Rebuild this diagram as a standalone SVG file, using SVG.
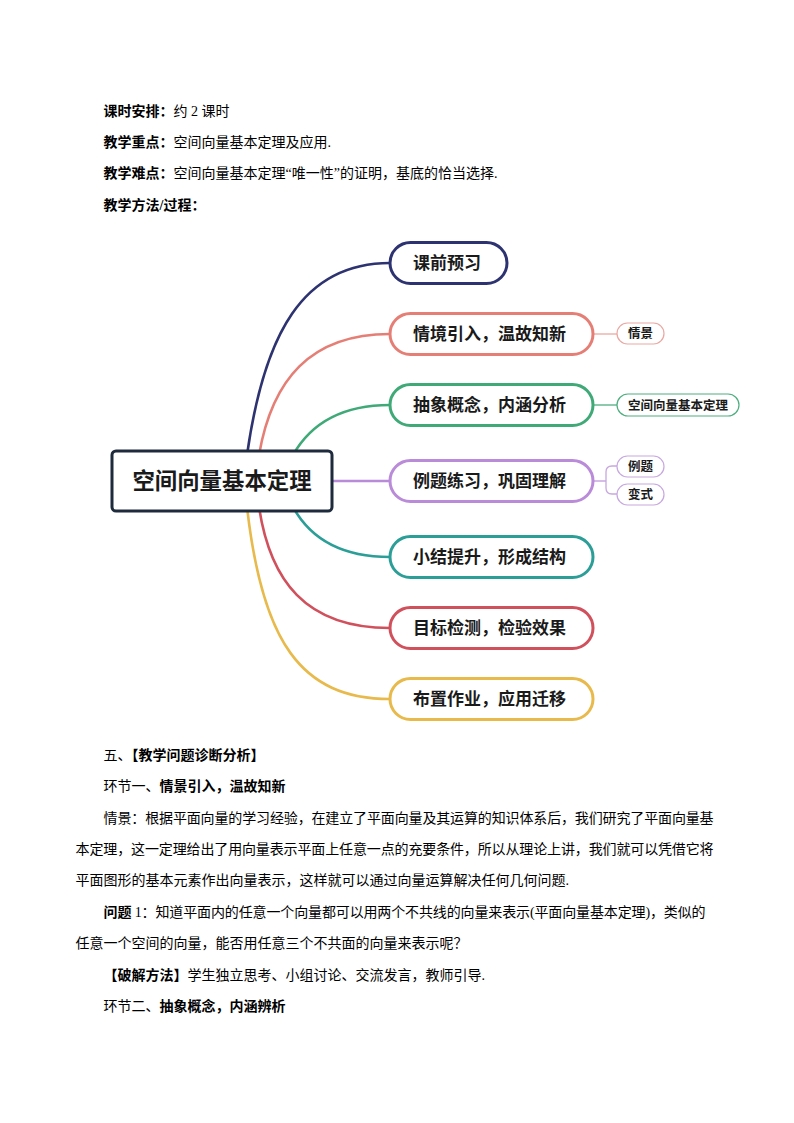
<svg xmlns="http://www.w3.org/2000/svg" width="794" height="1123" viewBox="0 0 794 1123">
<style>
  .doc { font-family: "Liberation Serif", "Noto Sans CJK SC", serif; font-size: 14px; fill: #000; }
  .b { font-weight: 700; }
  .mm { font-family: "Noto Sans CJK SC", "Liberation Sans", sans-serif; font-weight: 700; fill: #1a1a1a; }
  .br { font-size: 17px; }
  .sub { font-size: 12.5px; text-anchor: middle; }
  .pill { fill: #fff; stroke-width: 3; }
  .spill { fill: #fff; stroke-width: 1.2; }
  .conn { fill: none; stroke-width: 2.6; stroke-linecap: round; }
  .sconn { fill: none; stroke-width: 1.3; }
</style>
<rect width="794" height="1123" fill="#fff"/>

<g id="header-text" class="doc">
  <text x="103.6" y="116"><tspan class="b">课时安排：</tspan>约 2 课时</text>
  <text x="103.6" y="147"><tspan class="b">教学重点：</tspan>空间向量基本定理及应用.</text>
  <text x="103.6" y="178"><tspan class="b">教学难点：</tspan>空间向量基本定理“唯一性”的证明，基底的恰当选择.</text>
  <text x="103.6" y="210" class="b">教学方法/过程：</text>
</g>

<g id="connectors">
  <path class="conn" stroke="#2d3370" d="M247,455 C264,335 302,263 390,263"/>
  <path class="conn" stroke="#e57f76" d="M259,455 C272,380 310,334 390,334"/>
  <path class="conn" stroke="#3fa977" d="M293,455 C310,425 340,405 390,405"/>
  <path class="conn" stroke="#b98bd8" d="M330,481 H390"/>
  <path class="conn" stroke="#2b9e97" d="M293,507 C310,538 340,557 390,557"/>
  <path class="conn" stroke="#d0505c" d="M259,507 C270,580 305,628 390,628"/>
  <path class="conn" stroke="#e8b94b" d="M247,507 C262,640 300,699 390,699"/>
  <path class="sconn" stroke="#e9a8a2" d="M593,334 H617"/>
  <path class="sconn" stroke="#4fae80" d="M593,405 H617"/>
  <path class="sconn" stroke="#c8a8e0" d="M593,481 H606 M617,466 H612 Q606,466 606,472 V488 Q606,494 612,494 H617"/>
</g>

<g id="root">
  <rect x="112" y="451" width="220" height="60" rx="4" fill="#fff" stroke="#1e2b3c" stroke-width="3"/>
  <text class="mm" x="222" y="489" font-size="22.4" text-anchor="middle">空间向量基本定理</text>
</g>

<g id="n1">
  <rect class="pill" x="390" y="242.5" width="117" height="41" rx="20.5" stroke="#2d3370"/>
  <text class="mm br" x="413" y="269">课前预习</text>
</g>
<g id="n2">
  <rect class="pill" x="390" y="313.5" width="203" height="41" rx="20.5" stroke="#e57f76"/>
  <text class="mm br" x="413" y="340">情境引入，温故知新</text>
</g>
<g id="n3">
  <rect class="pill" x="390" y="384.5" width="203" height="41" rx="20.5" stroke="#3fa977"/>
  <text class="mm br" x="413" y="411">抽象概念，内涵分析</text>
</g>
<g id="n4">
  <rect class="pill" x="390" y="460.5" width="203" height="41" rx="20.5" stroke="#b98bd8"/>
  <text class="mm br" x="413" y="487">例题练习，巩固理解</text>
</g>
<g id="n5">
  <rect class="pill" x="390" y="536.5" width="203" height="41" rx="20.5" stroke="#2b9e97"/>
  <text class="mm br" x="413" y="563">小结提升，形成结构</text>
</g>
<g id="n6">
  <rect class="pill" x="390" y="607.5" width="203" height="41" rx="20.5" stroke="#d0505c"/>
  <text class="mm br" x="413" y="634">目标检测，检验效果</text>
</g>
<g id="n7">
  <rect class="pill" x="390" y="678.5" width="203" height="41" rx="20.5" stroke="#e8b94b"/>
  <text class="mm br" x="413" y="705">布置作业，应用迁移</text>
</g>

<g id="s1">
  <rect class="spill" x="617" y="323" width="47" height="21" rx="10.5" stroke="#e9a8a2"/>
  <text class="mm sub" x="640.5" y="338">情景</text>
</g>
<g id="s2">
  <rect class="spill" x="617" y="394" width="122" height="22" rx="11" stroke="#4fae80"/>
  <text class="mm sub" x="678" y="409.5">空间向量基本定理</text>
</g>
<g id="s3">
  <rect class="spill" x="617" y="456" width="47" height="21" rx="10.5" stroke="#c8a8e0"/>
  <text class="mm sub" x="640.5" y="471">例题</text>
</g>
<g id="s4">
  <rect class="spill" x="617" y="484" width="47" height="21" rx="10.5" stroke="#c8a8e0"/>
  <text class="mm sub" x="640.5" y="499">变式</text>
</g>

<g id="body-text" class="doc">
  <text x="103.6" y="760">五、<tspan class="b">【教学问题诊断分析】</tspan></text>
  <text x="103.6" y="791">环节一、<tspan class="b">情景引入，温故知新</tspan></text>
  <text x="103.6" y="823" textLength="610" lengthAdjust="spacing">情景：根据平面向量的学习经验，在建立了平面向量及其运算的知识体系后，我们研究了平面向量基</text>
  <text x="75.6" y="854" textLength="638" lengthAdjust="spacing">本定理，这一定理给出了用向量表示平面上任意一点的充要条件，所以从理论上讲，我们就可以凭借它将</text>
  <text x="75.6" y="885">平面图形的基本元素作出向量表示，这样就可以通过向量运算解决任何几何问题.</text>
  <text x="103.6" y="917" textLength="602" lengthAdjust="spacing"><tspan class="b">问题</tspan> 1：知道平面内的任意一个向量都可以用两个不共线的向量来表示(平面向量基本定理)，类似的</text>
  <text x="75.6" y="948">任意一个空间的向量，能否用任意三个不共面的向量来表示呢？</text>
  <text x="103.6" y="980"><tspan class="b">【破解方法】</tspan>学生独立思考、小组讨论、交流发言，教师引导.</text>
  <text x="103.6" y="1011">环节二、<tspan class="b">抽象概念，内涵辨析</tspan></text>
</g>
</svg>
